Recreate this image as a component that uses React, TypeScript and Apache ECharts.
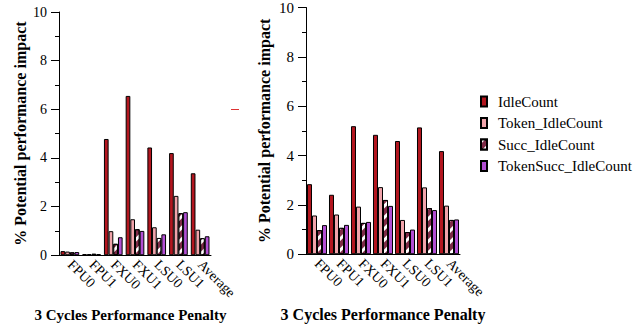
import React, { useEffect, useRef } from "react";
import * as echarts from "echarts";

const categories = ["FPU0", "FPU1", "FXU0", "FXU1", "LSU0", "LSU1", "Average"];
const seriesNames = ["IdleCount", "Token_IdleCount", "Succ_IdleCount", "TokenSucc_IdleCount"];

const leftIdle = [0.17, 0.05, 4.78, 6.55, 4.43, 4.2, 3.37];
const leftToken = [0.15, 0.05, 0.99, 1.48, 1.15, 2.44, 1.05];
const leftSucc = [0.12, 0.06, 0.47, 1.07, 0.71, 1.73, 0.7];
const leftTokenSucc = [0.13, 0.05, 0.74, 1.0, 0.86, 1.77, 0.78];

const rightIdle = [2.84, 2.41, 5.19, 4.84, 4.59, 5.14, 4.18];
const rightToken = [1.57, 1.61, 1.93, 2.72, 1.39, 2.71, 1.97];
const rightSucc = [0.98, 1.07, 1.27, 2.2, 0.9, 1.87, 1.39];
const rightTokenSucc = [1.18, 1.19, 1.31, 1.96, 1.0, 1.79, 1.41];

const yTicks = [0, 2, 4, 6, 8, 10];

const FONT = "Liberation Serif";

const styles = [
  { color: "#b3161f" },
  { color: "#f0a3aa" },
  {
    color: "#7e2b47",
    decal: {
      symbol: "rect",
      symbolSize: 1,
      dashArrayX: [1, 0],
      dashArrayY: [3, 5],
      rotation: -Math.PI / 4,
      color: "#ffffff",
    },
  },
  { color: "#b24ed3" },
];

export default function App() {
  const ref = useRef<HTMLDivElement>(null);
  useEffect(() => {
    if (!ref.current) return;
    const chart = echarts.init(ref.current, null, { renderer: "svg" });
    const leftData = [leftIdle, leftToken, leftSucc, leftTokenSucc];
    const rightData = [rightIdle, rightToken, rightSucc, rightTokenSucc];

    const mkX = (gi: number, nameGap: number, fs: number, pad: number[]) => ({
      type: "category",
      gridIndex: gi,
      data: categories,
      axisTick: { show: false },
      axisLine: { lineStyle: { color: "#000", width: 1 } },
      axisLabel: {
        rotate: -45,
        interval: 0,
        margin: 7,
        color: "#000",
        fontFamily: FONT,
        fontSize: 14,
      },
      name: "3 Cycles Performance Penalty",
      nameLocation: "middle",
      nameGap,
      nameTextStyle: {
        color: "#000",
        fontFamily: FONT,
        fontWeight: "bold",
        fontSize: fs,
        padding: pad,
      },
    });
    const mkY = (gi: number, nameGap: number, fs: number, lfs: number) => ({
      type: "value",
      gridIndex: gi,
      min: yTicks[0],
      max: yTicks[yTicks.length - 1],
      interval: 2,
      axisLine: { show: true, lineStyle: { color: "#000", width: 1 } },
      axisTick: { show: true, length: 8, lineStyle: { color: "#000" } },
      minorTick: { show: true, splitNumber: 2, length: 4, lineStyle: { color: "#000" } },
      splitLine: { show: false },
      minorSplitLine: { show: false },
      axisLabel: {
        margin: 12,
        color: "#000",
        fontFamily: FONT,
        fontSize: lfs,
      },
      name: "% Potential performance impact",
      nameLocation: "middle",
      nameGap,
      nameTextStyle: {
        color: "#000",
        fontFamily: FONT,
        fontWeight: "bold",
        fontSize: fs,
      },
    });

    const series: any[] = [];
    [leftData, rightData].forEach((dataSet, gi) => {
      dataSet.forEach((vals, si) => {
        series.push({
          type: "bar",
          name: seriesNames[si],
          xAxisIndex: gi,
          yAxisIndex: gi,
          data: vals,
          barGap: "0%",
          barCategoryGap: gi === 0 ? "14%" : "9%",
          itemStyle: { ...styles[si], borderColor: "#000", borderWidth: 1 },
        });
      });
    });

    chart.setOption({
      animation: false,
      backgroundColor: "#fff",
      textStyle: { fontFamily: FONT },
      grid: [
        { left: 59, top: 12, width: 152, height: 248 },
        { left: 306, top: 7, width: 154, height: 255 },
      ],
      xAxis: [mkX(0, 46, 15, [0, 9, 0, 0]), mkX(1, 48, 16, [0, 0, 0, 0])],
      yAxis: [mkY(0, 31, 16, 14), mkY(1, 34, 16, 15)],
      legend: {
        orient: "vertical",
        left: 480,
        top: 94,
        padding: 0,
        itemWidth: 6,
        itemHeight: 10,
        itemGap: 6.5,
        icon: "rect",
        data: seriesNames,
        textStyle: { color: "#000", fontFamily: FONT, fontSize: 15, padding: [0, 0, 0, 6] },
      },
      graphic: [
        {
          type: "line",
          shape: { x1: 231, y1: 109.5, x2: 239, y2: 109.5 },
          style: { stroke: "#d33", lineWidth: 1 },
        },
      ],
      series,
    });
    return () => chart.dispose();
  }, []);
  return (
    <div
      ref={ref}
      style={{ position: "absolute", left: 0, top: 0, width: 639, height: 327 }}
    />
  );
}
